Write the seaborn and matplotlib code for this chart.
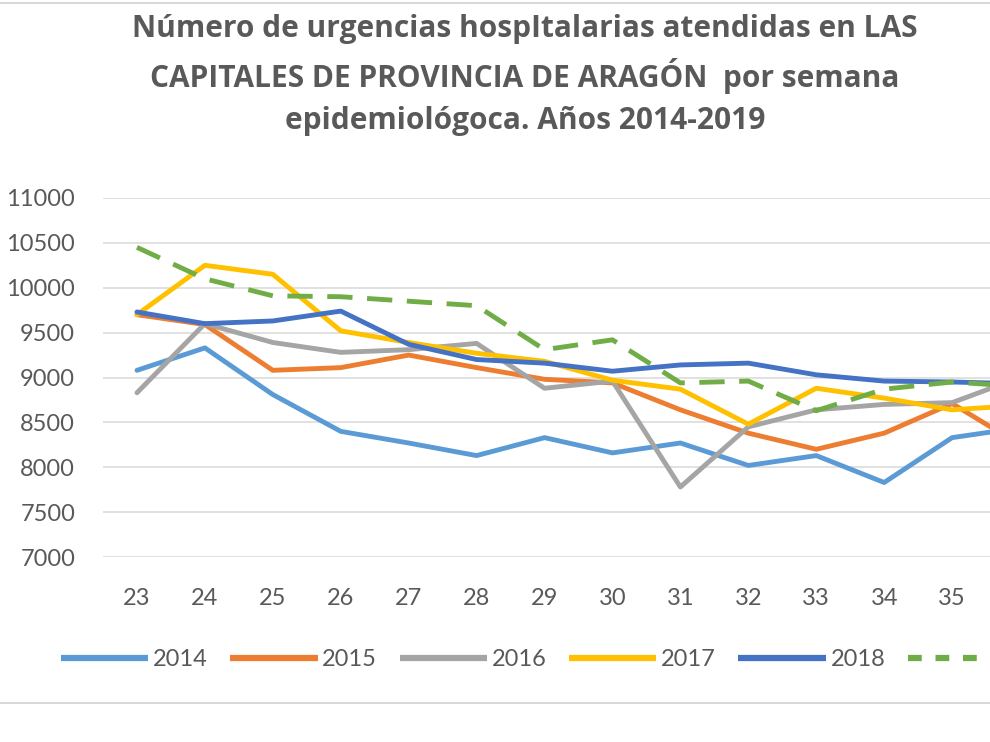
import matplotlib.pyplot as plt
import pandas as pd
import seaborn as sns
from matplotlib.lines import Line2D

# weeks shown (the right end of the original chart is cropped)
weeks = list(range(23, 37))
years = ['2014', '2015', '2016', '2017', '2018', '2019']

y2014 = [9080, 9330, 8810, 8400, 8270, 8130, 8330, 8160, 8270, 8020, 8130, 7830, 8330, 8440]
y2015 = [9700, 9590, 9080, 9110, 9250, 9110, 8980, 8940, 8640, 8380, 8200, 8380, 8710, 8250]
y2016 = [8830, 9600, 9390, 9280, 9310, 9380, 8880, 8960, 7780, 8450, 8640, 8700, 8720, 9000]
y2017 = [9700, 10250, 10150, 9520, 9390, 9270, 9180, 8970, 8870, 8480, 8880, 8770, 8640, 8690]
y2018 = [9730, 9600, 9630, 9740, 9370, 9200, 9160, 9070, 9140, 9160, 9030, 8960, 8950, 8930]
y2019 = [10450, 10100, 9910, 9900, 9850, 9800, 9310, 9420, 8940, 8960, 8630, 8870, 8950, 8900]

y_ticks = [7000, 7500, 8000, 8500, 9000, 9500, 10000, 10500, 11000]

series = dict(zip(years, [y2014, y2015, y2016, y2017, y2018, y2019]))
colors = ['#5B9BD5', '#ED7D31', '#A5A5A5', '#FFC000', '#4472C4', '#70AD47']

df = pd.DataFrame([(y, w, v) for y, vals in series.items() for w, v in zip(weeks, vals)],
                  columns=['year', 'week', 'value'])

sns.set_style('white')
plt.rcParams['font.family'] = ['Lato', 'DejaVu Sans']

fig = plt.figure(figsize=(9.9, 7.42), dpi=100)
# axes run past the right edge of the figure, as in the cropped original
ax = fig.add_axes([103 / 990, 185 / 742, 951 / 990, 359 / 742])

for year, color in zip(years, colors):
    sub = df[df['year'] == year]
    dashed = year == '2019'
    sns.lineplot(data=sub, x='week', y='value', ax=ax, color=color, linewidth=3.5,
                 linestyle='--' if dashed else '-', label=year, legend=False,
                 solid_capstyle='round', dash_capstyle='butt')
    if dashed:
        ax.lines[-1].set_dashes((5.2, 3.0))

ax.set_xlim(22.5, 36.5)
ax.set_ylim(7000, 11000)
# the label of week 36 falls outside the cropped picture
ax.set_xticks(weeks[:-1])
ax.set_yticks(y_ticks)
ax.grid(axis='y', color='#d9d9d9', linewidth=1.1)
ax.set_axisbelow(True)
for s in ax.spines.values():
    s.set_visible(False)
ax.set_xlabel('')
ax.set_ylabel('')
ax.tick_params(axis='both', length=0, labelsize=17, labelcolor='#595959')
ax.tick_params(axis='x', pad=22)
ax.tick_params(axis='y', pad=20)

fig.text(0.53, 1 - 75 / 742,
         'Número de urgencias hospItalarias atendidas en LAS\n'
         'CAPITALES DE PROVINCIA DE ARAGÓN  por semana\n'
         'epidemiológoca. Años 2014-2019',
         ha='center', va='center', fontsize=21.5, fontweight='bold',
         color='#595959', linespacing=1.5, family=['Open Sans', 'DejaVu Sans'])

handles = []
for year, color in zip(years, colors):
    h = Line2D([], [], color=color, linewidth=4.5, solid_capstyle='butt')
    if year == '2019':
        h.set_linestyle('--')
        h.set_dashes((2.2, 2.2))
    handles.append(h)
fig.legend(handles, years, loc='center left', bbox_to_anchor=(61 / 990, 1 - 660 / 742),
           ncol=6, frameon=False, fontsize=17, labelcolor='#595959',
           handlelength=3.7, handletextpad=0.2, columnspacing=0.95, borderpad=0,
           borderaxespad=0)

# chart frame lines
fig.add_artist(Line2D([0, 1], [1 - 703 / 742] * 2, color='#d9d9d9', linewidth=1.5))
fig.add_artist(Line2D([0, 1], [1 - 3 / 742] * 2, color='#d9d9d9', linewidth=1.5))

plt.savefig('out.png', dpi=100)
